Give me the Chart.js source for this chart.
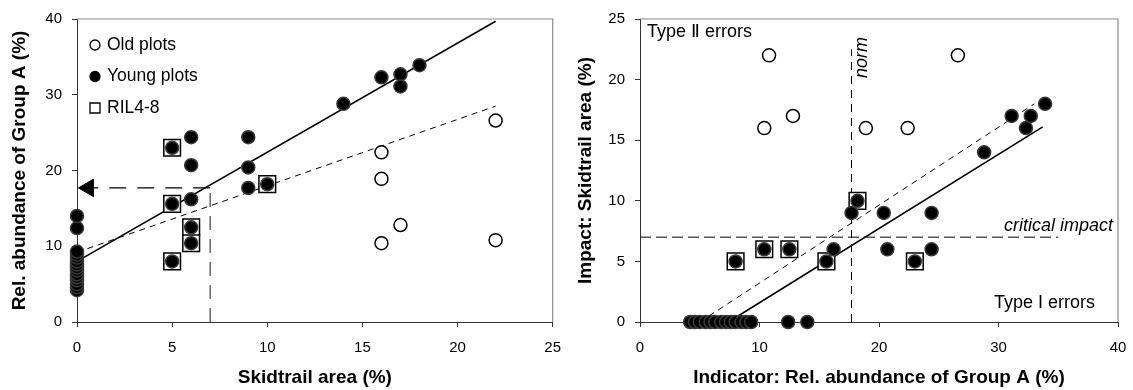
<!DOCTYPE html>
<html>
<head>
<meta charset="utf-8">
<script src="https://cdn.jsdelivr.net/npm/chart.js@4.4.1/dist/chart.umd.min.js"></script>
<style>
  html, body { margin: 0; padding: 0; background: #fff; }
  #wrap { position: relative; width: 1133px; height: 390px; }
  .panel { position: absolute; top: 0; height: 390px; }
</style>
</head>
<body>
<div id="wrap">
  <div class="panel" style="left:0;width:566px"><canvas id="skid-rel" width="566" height="390"></canvas></div>
  <div class="panel" style="left:566px;width:567px"><canvas id="rel-skid" width="567" height="390"></canvas></div>
</div>
<script>
// young plots: skidtrail area (%) and rel. abundance of group A (%)
var youngSkid = [0, 0, 0, 0, 0, 0, 0, 0, 0, 0, 0, 0, 0, 0, 0,
                 5, 5, 5, 6, 6, 6, 6, 6, 9, 9, 9, 10, 14, 16, 17, 17, 18];
var youngRel = [4.2, 4.6, 5.0, 5.5, 5.9, 6.3, 6.8, 7.2, 7.6, 8.0, 8.5, 8.9, 9.3, 12.4, 14.0,
                23.0, 15.6, 8.0, 24.4, 20.7, 16.2, 12.5, 10.4, 24.4, 20.4, 17.7, 18.2, 28.8, 32.3, 32.7, 31.1, 33.9];

// old plots
var oldSkid = [16, 16, 16, 17, 22, 22];
var oldRel = [22.4, 18.9, 10.4, 12.8, 26.6, 10.8];

// RIL4-8 plots (boxed)
var rilSkid = [5, 5, 5, 6, 6, 10];
var rilRel = [23.0, 15.6, 8.0, 12.5, 10.4, 18.2];

// fitted lines, end points
var fitYoungSkid = [0, 22], fitYoungRel = [8.0, 39.7];
var fitAllSkid = [0, 22], fitAllRel = [9.2, 28.5];
var impactFitRel = [7.4, 33.7], impactFitSkid = [0, 16.1];
var impactFit2Rel = [5.0, 33.0], impactFit2Skid = [0, 18.0];

// thresholds
var skidLimit = 7;       // critical impact (skidtrail area %)
var relNorm = 17.7;      // norm (rel. abundance %)
var arrowTip = 0.6;
var normTop = 22.5;
var critEnd = 35;

// axis ticks
var leftXTicks = [0, 5, 10, 15, 20, 25];
var leftYTicks = [0, 10, 20, 30, 40];
var rightXTicks = [0, 10, 20, 30, 40];
var rightYTicks = [0, 5, 10, 15, 20, 25];

var FONT = '"Liberation Sans", Arial, sans-serif';
Chart.defaults.font.family = FONT;
Chart.defaults.color = '#000';

function pts(xs, ys) {
  return xs.map(function(x, i) { return {x: x, y: ys[i]}; });
}

function lineSet(data, dash, width, color) {
  return {
    type: 'line', data: data, showLine: true, fill: false,
    borderColor: color || '#000', borderWidth: width, borderDash: dash,
    pointRadius: 0, order: 3, clip: false
  };
}

function axis(ticks, title, fitSize, horizontal) {
  return {
    type: 'linear',
    min: ticks[0], max: ticks[ticks.length - 1],
    ticks: { stepSize: ticks[1] - ticks[0], font: { size: 15 }, padding: horizontal ? 12 : 10, color: '#000' },
    grid: { display: true, drawOnChartArea: false, drawTicks: true, tickLength: 5, color: '#333' },
    border: { display: true, color: '#333', width: 1 },
    title: { display: true, text: title, font: { size: 19, weight: 'bold' },
             padding: horizontal ? { top: 0, bottom: 1 } : { top: 8, bottom: 0 } },
    afterFit: function(scale) {
      if (horizontal) {
        scale.height = fitSize;
        scale.paddingLeft = 0;
        scale.paddingRight = 0;
      } else {
        scale.width = fitSize;
        scale.paddingTop = 0;
        scale.paddingBottom = 0;
      }
    }
  };
}

var frame = {
  id: 'frame',
  beforeDatasetsDraw: function(chart) {
    var a = chart.chartArea, ctx = chart.ctx;
    ctx.save();
    ctx.strokeStyle = '#8c8c8c';
    ctx.lineWidth = 1.2;
    ctx.beginPath();
    ctx.moveTo(a.left, a.top);
    ctx.lineTo(a.right, a.top);
    ctx.lineTo(a.right, a.bottom);
    ctx.stroke();
    ctx.restore();
  }
};

var insideLegend = {
  id: 'insideLegend',
  afterDraw: function(chart, args, opts) {
    if (!opts.show) return;
    var a = chart.chartArea, ctx = chart.ctx;
    ctx.save();
    ctx.font = '17.5px ' + FONT;
    ctx.textBaseline = 'middle';
    chart.data.datasets.filter(function(d) { return d.inLegend; }).forEach(function(d, i) {
      var y = a.top + 26 + i * 31.5, x = a.left + 18;
      ctx.lineWidth = 1.3;
      ctx.strokeStyle = '#000';
      ctx.beginPath();
      if (d.pointStyle === 'rect') ctx.rect(x - 5, y - 5, 10, 10);
      else ctx.arc(x, y, 5, 0, Math.PI * 2);
      ctx.fillStyle = d.pointStyle === 'rect' ? '#fff' : d.backgroundColor;
      ctx.fill();
      ctx.stroke();
      ctx.fillStyle = '#000';
      ctx.fillText(d.label, a.left + 30, y);
    });
    ctx.restore();
  }
};

var notes = {
  id: 'notes',
  afterDraw: function(chart, args, opts) {
    if (!opts.show) return;
    var a = chart.chartArea, ctx = chart.ctx;
    var xs = chart.scales.x, ys = chart.scales.y;
    ctx.save();
    ctx.fillStyle = '#000';
    ctx.font = '18px ' + FONT;
    ctx.textBaseline = 'alphabetic';
    ctx.textAlign = 'left';
    ctx.fillText('Type \u2161 errors', a.left + 7, a.top + 18);
    ctx.textAlign = 'right';
    ctx.fillText('Type I errors', a.right - 23, a.bottom - 14);
    ctx.font = 'italic 18px ' + FONT;
    ctx.fillText('critical impact', a.right - 5, ys.getPixelForValue(skidLimit) - 6);
    ctx.translate(xs.getPixelForValue(relNorm) + 10, a.top + 59);
    ctx.rotate(-Math.PI / 2);
    ctx.textAlign = 'left';
    ctx.textBaseline = 'middle';
    ctx.fillText('norm', 0, 0);
    ctx.restore();
  }
};

var young = { label: 'Young plots', inLegend: true, backgroundColor: '#000', borderColor: '#3a3a3a',
              borderWidth: 1.5, pointRadius: 6.5, pointStyle: 'circle', order: 0, clip: false };
var old = { label: 'Old plots', inLegend: true, backgroundColor: '#fff', borderColor: '#000',
            borderWidth: 1.5, pointRadius: 6.5, pointStyle: 'circle', order: 0, clip: false };
var ril = { label: 'RIL4-8', inLegend: true, backgroundColor: '#fff', borderColor: '#000',
            borderWidth: 1.5, pointRadius: 11.8, pointStyle: 'rect', order: 1, clip: false };

function baseOptions(xTicks, yTicks, xTitle, yTitle, yWidth, rightPad, legendOn) {
  return {
    responsive: false, animation: false, devicePixelRatio: 1, events: [],
    layout: { padding: { top: 19, right: rightPad, left: 0, bottom: 0 } },
    scales: {
      x: axis(xTicks, xTitle, 68, true),
      y: axis(yTicks, yTitle, yWidth, false)
    },
    plugins: {
      legend: { display: false },
      tooltip: { enabled: false },
      insideLegend: { show: legendOn },
      notes: { show: !legendOn }
    }
  };
}

new Chart(document.getElementById('skid-rel'), {
  type: 'scatter',
  data: {
    datasets: [
      Object.assign({ data: pts(oldSkid, oldRel) }, old),
      Object.assign({ data: pts(youngSkid, youngRel) }, young),
      Object.assign({ data: pts(rilSkid, rilRel) }, ril),
      lineSet(pts(fitYoungSkid, fitYoungRel), [], 1.6),
      lineSet(pts(fitAllSkid, fitAllRel), [6, 5], 1),
      Object.assign(lineSet(pts([skidLimit, arrowTip], [relNorm, relNorm]), [17, 11], 1.2), {
        pointRadius: [0, 10], pointStyle: 'triangle', rotation: -90,
        pointBackgroundColor: '#000', pointBorderColor: '#000', pointBorderWidth: 1
      }),
      lineSet(pts([skidLimit, skidLimit], [0, relNorm]), [14, 9], 1.5, '#666')
    ]
  },
  options: baseOptions(leftXTicks, leftYTicks, 'Skidtrail area (%)', 'Rel. abundance of Group A (%)', 77, 11, true),
  plugins: [frame, insideLegend, notes]
});

new Chart(document.getElementById('rel-skid'), {
  type: 'scatter',
  data: {
    datasets: [
      Object.assign({ data: pts(oldRel, oldSkid) }, old),
      Object.assign({ data: pts(youngRel, youngSkid) }, young),
      Object.assign({ data: pts(rilRel, rilSkid) }, ril),
      lineSet(pts(impactFitRel, impactFitSkid), [], 1.6),
      lineSet(pts(impactFit2Rel, impactFit2Skid), [6, 5], 1),
      lineSet(pts([relNorm, relNorm], [0, normTop]), [8, 6], 1),
      lineSet(pts([0, critEnd], [skidLimit, skidLimit]), [11, 5], 1)
    ]
  },
  options: baseOptions(rightXTicks, rightYTicks, 'Indicator: Rel. abundance of Group A (%)', 'Impact: Skidtrail area (%)', 74, 15, false),
  plugins: [frame, insideLegend, notes]
});
</script>
</body>
</html>
